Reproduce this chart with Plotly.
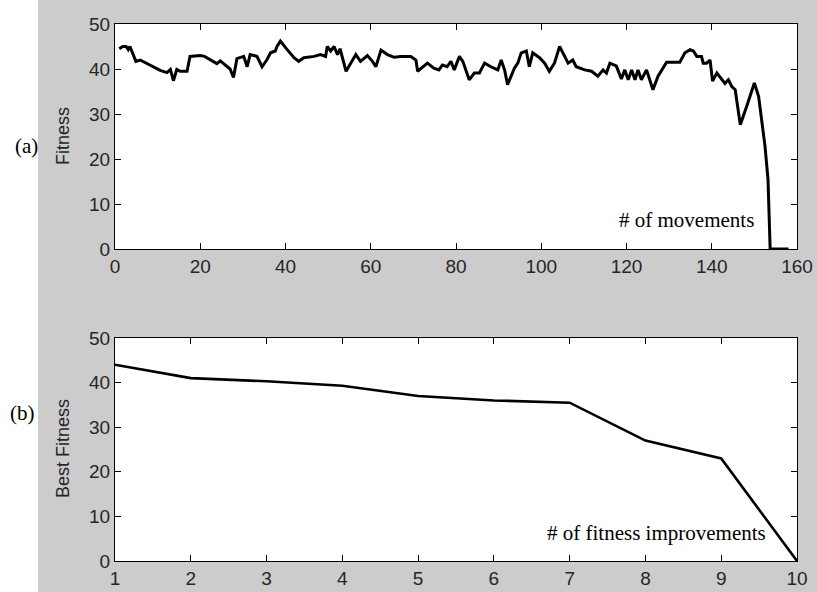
import plotly.graph_objects as go

# ---- data ----
move_x = [1, 1.8, 2.6, 3.1, 3.5, 4.9, 5.9, 7.5, 9.0, 10.6, 12.2, 13.0, 13.7, 14.5, 15.3, 16.9,
          17.6, 20.0, 21.0, 22.4, 23.9, 24.7, 25.9, 27.0, 27.8, 28.6, 30.2, 31.0, 31.7, 33.3,
          34.5, 35.6, 36.5, 37.6, 38.0, 38.8, 40.4, 42.0, 43.1, 44.3, 46.7, 48.2, 49.4, 49.8,
          50.6, 51.4, 52.2, 52.8, 54.2, 55.3, 56.5, 57.6, 59.2, 60.4, 61.2, 62.4, 63.9, 65.5,
          67.0, 69.4, 70.6, 71.0, 73.3, 74.8, 76.0, 76.8, 77.9, 78.8, 79.6, 80.8, 81.6, 83.1,
          84.3, 85.5, 86.7, 88.2, 89.8, 90.6, 91.4, 92.1, 92.9, 93.7, 94.5, 95.3, 96.5, 97.2,
          98.0, 99.6, 100.8, 101.9, 103.1, 104.3, 105.5, 106.3, 107.4, 108.2, 110.2, 111.8,
          113.3, 114.5, 115.3, 116.1, 117.6, 118.8, 119.6, 120.4, 121.2, 122.0, 122.7, 123.5,
          124.7, 126.2, 127.4, 129.4, 132.5, 133.7, 134.9, 135.7, 136.5, 137.6, 138.0, 138.8,
          139.6, 140.2, 141.2, 142.4, 143.1, 143.9, 144.7, 145.5, 146.7, 148.2, 150.0, 151.0,
          152.5, 153.2, 153.7, 158.0]
fitness = [44.5, 45, 45, 44.3, 45, 41.7, 42, 41.2, 40.5, 39.7, 39.2, 39.9, 37.4, 39.9, 39.5, 39.5,
           42.8, 43, 42.8, 42, 41.2, 41.8, 40.8, 40, 38.1, 42.3, 42.8, 40.5, 43.2, 42.8,
           40.5, 42, 43.6, 44, 45, 46.2, 44.3, 42.5, 41.7, 42.5, 42.8, 43.2, 42.8, 45,
           44, 45, 43.2, 44.5, 39.5, 41.3, 43.2, 41.7, 43, 41.7, 40.5, 44.2, 43.2, 42.6,
           42.8, 42.8, 42, 39.5, 41.3, 40.2, 39.8, 40.9, 40.5, 41.7, 39.8, 42.8, 41.7, 37.6,
           39.1, 39.1, 41.3, 40.5, 39.8, 42, 39.8, 36.5, 38.4, 40.2, 41.3, 43.6, 44, 40.5,
           43.6, 42.5, 41.3, 39.5, 41.3, 45, 42.8, 41.3, 42, 40.5, 39.8, 39.5,
           38.4, 39.8, 39.1, 41.3, 40.7, 37.8, 39.8, 37.6, 39.8, 37.6, 39.8, 37.6,
           39.8, 35.4, 38.4, 41.5, 41.5, 43.6, 44.3, 44, 42.8, 42.8, 41.3, 41.3,
           42, 37.3, 39.1, 37.6, 36.8, 37.6, 36.1, 35.4, 27.6, 31.7, 36.9, 33.9,
           22.8, 15.4, 0, 0]

improve_x = [1, 2, 3, 4, 5, 6, 7, 8, 9, 10]
best_fitness = [44, 41, 40.3, 39.3, 37, 36, 35.5, 27, 23, 0]

top_xticks = [0, 20, 40, 60, 80, 100, 120, 140, 160]
bot_xticks = [1, 2, 3, 4, 5, 6, 7, 8, 9, 10]
yticks = [0, 10, 20, 30, 40, 50]

# ---- layout geometry ----
W, H = 817, 592
ML, MR, MT, MB = 115, 20, 24, 31
PW = W - ML - MR
PH = H - MT - MB

def py(pix):  # pixel y (from top) -> paper y
    return (H - MB - pix) / PH

def px(pix):  # pixel x -> paper x
    return (pix - ML) / PW

tick_font = dict(family="Arial, Liberation Sans, sans-serif", size=19, color="#262626")

fig = go.Figure()
fig.add_trace(go.Scatter(x=move_x, y=fitness, mode="lines",
                         line=dict(color="black", width=3), xaxis="x", yaxis="y",
                         showlegend=False, hoverinfo="skip"))
fig.add_trace(go.Scatter(x=improve_x, y=best_fitness, mode="lines",
                         line=dict(color="black", width=2.6), xaxis="x2", yaxis="y2",
                         showlegend=False, hoverinfo="skip"))

axis_common = dict(showgrid=False, zeroline=False, showline=True, linecolor="black",
                   linewidth=1, mirror="ticks", ticks="inside", ticklen=6,
                   tickcolor="black", tickfont=tick_font, automargin=False)

fig.update_layout(
    width=W, height=H,
    margin=dict(l=ML, r=MR, t=MT, b=MB, autoexpand=False),
    paper_bgcolor="#cccccc",
    plot_bgcolor="white",
    xaxis=dict(range=[0, 160], tickvals=top_xticks, domain=[0, 1], anchor="y", **axis_common),
    yaxis=dict(range=[0, 50], tickvals=yticks, domain=[py(249), 1], anchor="x", **axis_common),
    xaxis2=dict(range=[1, 10], tickvals=bot_xticks, domain=[0, 1], anchor="y2", **axis_common),
    yaxis2=dict(range=[0, 50], tickvals=yticks, domain=[0, py(338)], anchor="x2", **axis_common),
)

# white strip at the left edge
fig.add_shape(type="rect", xref="paper", yref="paper",
              x0=px(-5), x1=px(38), y0=py(H + 5), y1=py(-5),
              fillcolor="white", line=dict(width=0), layer="below")

label_font = dict(family="Arial, Liberation Sans, sans-serif", size=18, color="#262626")
serif = dict(family="Liberation Serif, Times New Roman, serif", size=21, color="black")

def note(text, x, y, font, angle=0):
    fig.add_annotation(text=text, xref="paper", yref="paper", x=px(x), y=py(y),
                       xanchor="center", yanchor="middle", textangle=angle,
                       showarrow=False, font=font)

note("Fitness", 63, 136, label_font, -90)
note("Best Fitness", 63, 449, label_font, -90)
note("(a)", 26, 146, serif)
note("(b)", 22, 413, serif)
note("# of movements", 686, 220, serif)
note("# of fitness improvements", 656, 533, serif)

fig.write_html("out.html")
